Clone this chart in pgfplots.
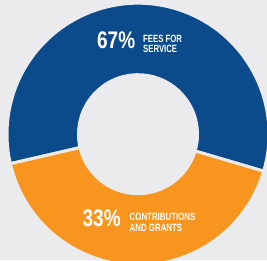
\documentclass[border=0pt]{standalone}
\usepackage{pgfplots}
\pgfplotsset{compat=1.18}
\usepackage{pgfplotstable}
\usepackage{graphicx}
\usepackage{fontspec}
\setmainfont{Liberation Sans}
\definecolor{bg}{HTML}{EBEBED}
\definecolor{fblue}{HTML}{0B4A8B}
\definecolor{forange}{HTML}{F8951F}

% slices: value (%), start and end angle of each slice as drawn
\pgfplotstableread{
name value start end color
fees 67 -16.4 193 fblue
contrib 33 193 343.6 forange
}\slices

\begin{document}
\begin{tikzpicture}
\begin{axis}[x=1pt,y=1pt,xmin=0,xmax=267,ymin=0,ymax=260,
  hide axis, clip=false, scale only axis]
\coordinate (ll) at (axis cs:0,0);
\coordinate (ur) at (axis cs:267,260);
\coordinate (c) at (axis cs:138,125.8);
\fill[bg] (ll) rectangle (ur);
\pgfplotsinvokeforeach{0,1}{%
 \pgfplotstablegetelem{#1}{start}\of\slices \edef\sa{\pgfplotsretval}%
 \pgfplotstablegetelem{#1}{end}\of\slices \edef\se{\pgfplotsretval}%
 \pgfplotstablegetelem{#1}{color}\of\slices \edef\sc{\pgfplotsretval}%
 \edef\temp{\noexpand\filldraw[fill=\sc,draw=bg,line width=3pt]
   ([shift={(\sa:131pt)}]c) arc[start angle=\sa,end angle=\se,radius=131pt]
   -- ([shift={(\se:59.5pt)}]c) arc[start angle=\se,end angle=\sa,radius=59.5pt] -- cycle;}%
 \temp
}
\node[anchor=base west, inner sep=0, text=white, font=\bfseries\fontsize{24}{24}\selectfont] at (axis cs:97,211) {\scalebox{0.79}[1]{67\%}};
\node[anchor=base west, inner sep=0, text=white, font=\bfseries\fontsize{10.5}{10.5}\selectfont] at (axis cs:143,217.7) {\scalebox{0.74}[1]{FEES FOR}};
\node[anchor=base west, inner sep=0, text=white, font=\bfseries\fontsize{10.5}{10.5}\selectfont] at (axis cs:143,207.5) {\scalebox{0.74}[1]{SERVICE}};
\node[anchor=base west, inner sep=0, text=white, font=\bfseries\fontsize{24}{24}\selectfont] at (axis cs:82.5,33.3) {\scalebox{0.79}[1]{33\%}};
\node[anchor=base west, inner sep=0, text=white, font=\bfseries\fontsize{10.5}{10.5}\selectfont] at (axis cs:129.5,40) {\scalebox{0.75}[1]{CONTRIBUTIONS}};
\node[anchor=base west, inner sep=0, text=white, font=\bfseries\fontsize{10.5}{10.5}\selectfont] at (axis cs:129.5,28.3) {\scalebox{0.75}[1]{AND GRANTS}};
\end{axis}
\pgfresetboundingbox
\useasboundingbox (ll) rectangle (ur);
\end{tikzpicture}
\end{document}
